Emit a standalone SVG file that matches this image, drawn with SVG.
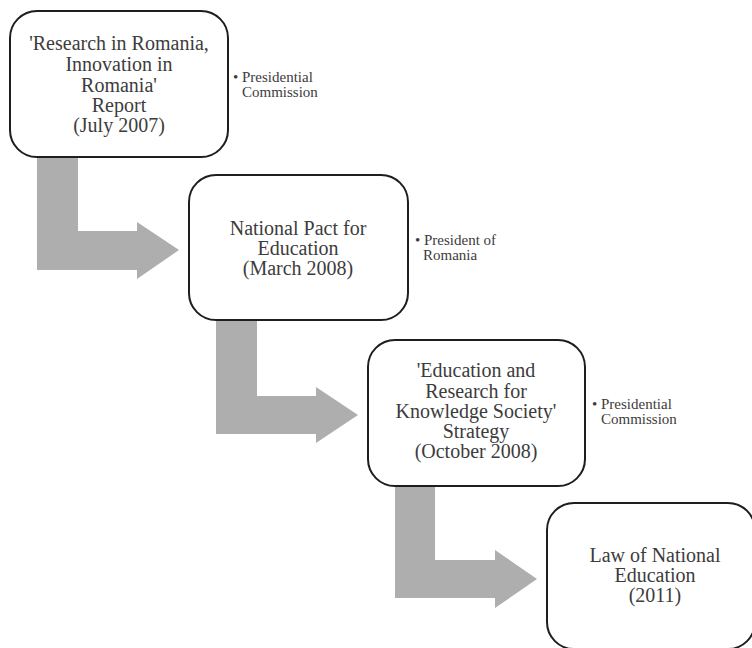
<svg xmlns="http://www.w3.org/2000/svg" width="752" height="648" viewBox="0 0 752 648">
<style>
.box{fill:#fff;stroke:#1e1e1e;stroke-width:2}
.arr{fill:#aeaeae}
.t{font-family:"Liberation Serif","Times New Roman",serif;font-size:20px;fill:#3c3c3c;text-anchor:middle}
.s{font-family:"Liberation Serif","Times New Roman",serif;font-size:15px;fill:#3c3c3c}
</style>
<rect width="752" height="648" fill="#fff"/>
<g id="connectors">
<polygon class="arr" points="37,157 78,157 78,231 137,231 137,222 179,250 137,279 137,270 37,270"/>
<polygon class="arr" points="216,320 257,320 257,396 316,396 316,387 358,415 316,443 316,434 216,434"/>
<polygon class="arr" points="395,486 435,486 435,560 495,560 495,550 537,579 495,608 495,598 395,598"/>
</g>
<g id="node1">
<rect class="box" x="10" y="11" width="218" height="146" rx="27"/>
<text class="t" x="119" y="50">'Research in Romania,</text>
<text class="t" x="119" y="71">Innovation in</text>
<text class="t" x="119" y="92">Romania'</text>
<text class="t" x="119" y="112">Report</text>
<text class="t" x="119" y="132">(July 2007)</text>
<text class="s" x="233" y="82">• Presidential</text>
<text class="s" x="242" y="97">Commission</text>
</g>
<g id="node2">
<rect class="box" x="189" y="175" width="219" height="145" rx="27"/>
<text class="t" x="298" y="235">National Pact for</text>
<text class="t" x="298" y="255">Education</text>
<text class="t" x="298" y="275">(March 2008)</text>
<text class="s" x="415" y="245">• President of</text>
<text class="s" x="423" y="260">Romania</text>
</g>
<g id="node3">
<rect class="box" x="368" y="340" width="217" height="146" rx="27"/>
<text class="t" x="476" y="377">'Education and</text>
<text class="t" x="476" y="398">Research for</text>
<text class="t" x="476" y="418">Knowledge Society'</text>
<text class="t" x="476" y="438">Strategy</text>
<text class="t" x="476" y="458">(October 2008)</text>
<text class="s" x="592" y="409">• Presidential</text>
<text class="s" x="601" y="424">Commission</text>
</g>
<g id="node4">
<rect class="box" x="547" y="503" width="208" height="146" rx="27"/>
<text class="t" x="655" y="562">Law of National</text>
<text class="t" x="655" y="582">Education</text>
<text class="t" x="655" y="602">(2011)</text>
</g>
</svg>
